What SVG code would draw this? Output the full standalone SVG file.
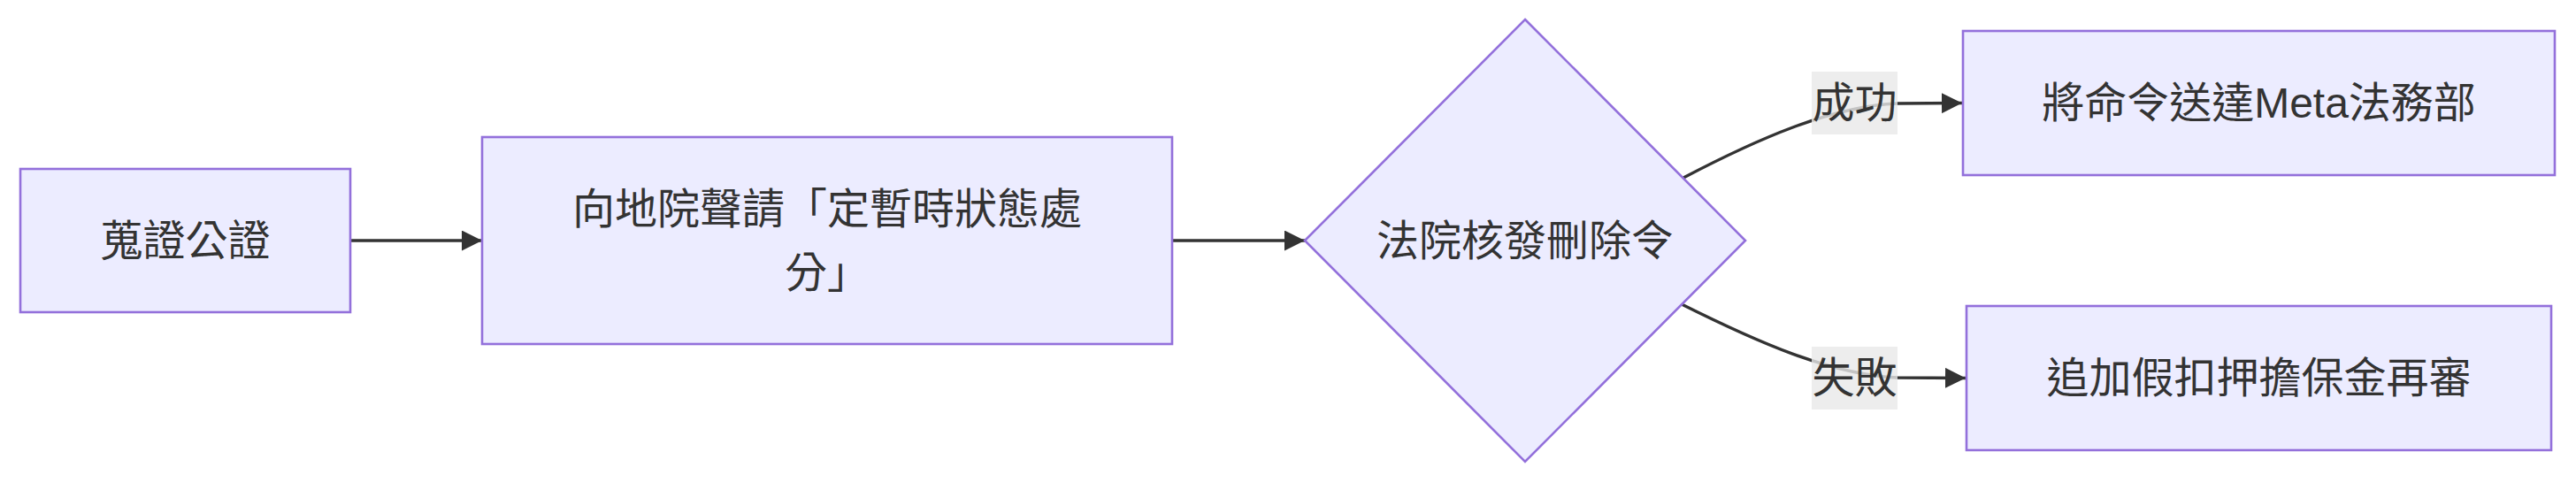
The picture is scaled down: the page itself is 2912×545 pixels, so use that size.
<svg xmlns="http://www.w3.org/2000/svg" width="2912" height="545" viewBox="0 0 2912 545">
<style>
.node rect, .node polygon { fill: #ECECFF; stroke: #9370DB; stroke-width: 2.6; }
.lbl { font-family: "Liberation Sans", "Noto Sans CJK TC", sans-serif; font-size: 48px; fill: #333333; text-anchor: middle; dominant-baseline: central; }
.edge { fill: none; stroke: #333333; stroke-width: 3.4; }
.elbg { fill: rgba(232,232,232,0.8); }
</style>
<defs>
<marker id="arrow" viewBox="0 0 10 10" refX="10" refY="5" markerUnits="userSpaceOnUse" markerWidth="23" markerHeight="23" orient="auto">
<path d="M0,0 L10,5 L0,10 z" fill="#333333"/>
</marker>
</defs>
<rect width="2912" height="545" fill="#ffffff"/>
<g id="connectors">
<path class="edge" d="M396,272 L545,272" marker-end="url(#arrow)"/>
<path class="edge" d="M1325,272 L1475,272" marker-end="url(#arrow)"/>
<path class="edge" d="M1903,201 C1985,158 2070,120 2145,117 L2218,116.5" marker-end="url(#arrow)"/>
<path class="edge" d="M1901,344 C1985,386 2070,424 2145,427 L2222,427.5" marker-end="url(#arrow)"/>
<g id="edge-label-success">
<rect class="elbg" x="2048" y="81" width="97" height="71"/>
<text class="lbl" x="2096.5" y="116.5">成功</text>
</g>
<g id="edge-label-fail">
<rect class="elbg" x="2048" y="392" width="97" height="71"/>
<text class="lbl" x="2096.5" y="427.5">失敗</text>
</g>
</g>
<g id="node-evidence" class="node">
<rect x="23" y="191" width="373" height="162"/>
<text class="lbl" x="209.5" y="272">蒐證公證</text>
</g>
<g id="node-petition" class="node">
<rect x="545" y="155" width="780" height="234"/>
<text class="lbl" x="935" y="236">向地院聲請「定暫時狀態處</text>
<text class="lbl" x="935" y="308">分」</text>
</g>
<g id="node-decision" class="node">
<polygon points="1724,22 1973,272 1724,522 1475,272"/>
<text class="lbl" x="1724" y="272">法院核發刪除令</text>
</g>
<g id="node-deliver" class="node">
<rect x="2219" y="35" width="669" height="163"/>
<text class="lbl" x="2553.5" y="116.5">將命令送達Meta法務部</text>
</g>
<g id="node-retry" class="node">
<rect x="2223" y="346" width="661" height="163"/>
<text class="lbl" x="2553.5" y="427.5">追加假扣押擔保金再審</text>
</g>
</svg>
